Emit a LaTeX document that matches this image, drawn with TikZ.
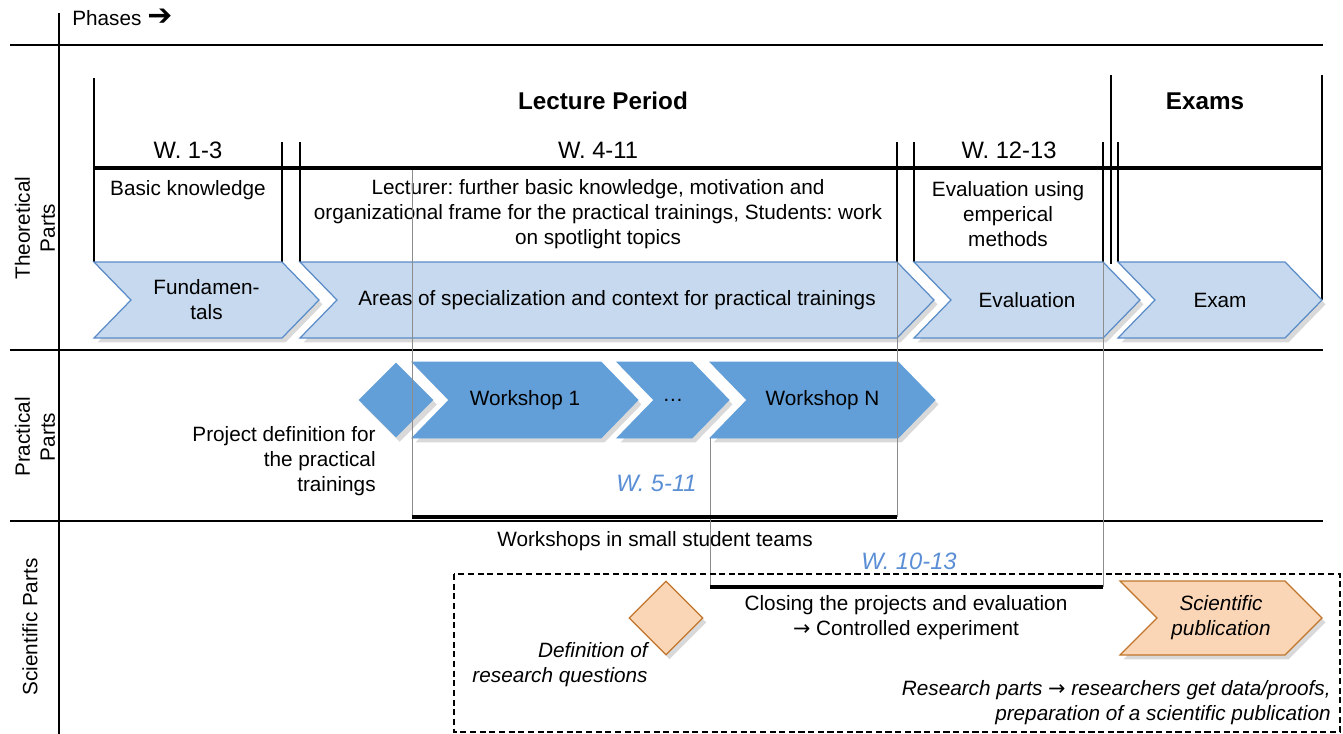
\documentclass[tikz,border=0pt]{standalone}
\usepackage{fontspec}
\setmainfont{Liberation Sans}
\newfontfamily\symfont{DejaVu Sans}
\usepackage{tikz}
\usetikzlibrary{shapes,arrows,calc,positioning,shadows}
\frenchspacing

\definecolor{chevlight}{HTML}{C6D9EE}
\definecolor{chevedge}{HTML}{5A8CC8}
\definecolor{chevdark}{HTML}{629FD9}
\definecolor{peach}{HTML}{FBD6B6}
\definecolor{peachedge}{HTML}{BF762C}
\definecolor{weekblue}{HTML}{5B8FD5}

\begin{document}
\begin{tikzpicture}[x=0.02cm, y=-0.02cm]
        \tikzstyle{gridline} = [draw, line width=0.75pt]
        \tikzstyle{phaseline} = [draw, line width=0.9pt]
        \tikzstyle{spanline} = [draw, line width=2.2pt]
        \tikzstyle{guideline} = [draw, line width=0.5pt, color=black!45]
        \tikzstyle{chevlt} = [fill=chevlight, draw=chevedge, line width=0.7pt,
        drop shadow={shadow xshift=2pt, shadow yshift=-2.5pt, opacity=0.3}]
        \tikzstyle{chevdk} = [fill=chevdark, draw=chevdark, line width=0.5pt,
        drop shadow={shadow xshift=2pt, shadow yshift=-2.5pt, opacity=0.3}]
        \tikzstyle{chevor} = [fill=peach, draw=peachedge, line width=0.7pt,
        drop shadow={shadow xshift=2pt, shadow yshift=-2.5pt, opacity=0.3}]
        \tikzset{txt/.style={font=\fontsize{11.8}{14.2}\selectfont, inner sep=0pt, align=center}}
        \tikzset{txtit/.style={font=\fontsize{11.8}{14.2}\selectfont\itshape, inner sep=0pt}}
        \tikzset{week/.style={font=\fontsize{13.5}{16}\selectfont, inner sep=0pt}}
        \tikzset{weekit/.style={font=\fontsize{13.5}{16}\selectfont\itshape, text=weekblue, inner sep=0pt}}
        \tikzset{head/.style={font=\fontsize{13.8}{16}\selectfont\bfseries, inner sep=0pt}}

        \useasboundingbox (0,0) rectangle (1343,734);

        % swimlanes
        \draw[gridline] (59,13) -- (59,734);
        \foreach \y in {45,350,521}
            \draw[gridline] (10,\y) -- (1323,\y);
        \node[txt, rotate=90] (theo) at (35,228) {Theoretical\\Parts};
        \node[txt, rotate=90] (prac) at (35,437) {Practical\\Parts};
        \node[txt, rotate=90] (sci) at (30,627) {Scientific Parts};
        \node[txt, anchor=west] (phases) at (72,17) {Phases {\symfont\bfseries\fontsize{17}{17}\selectfont ➔}};

        % phase brackets
        \draw[phaseline] (94,78) -- (94,262);
        \draw[phaseline] (1111,75) -- (1111,264);
        \draw[phaseline] (1322,75) -- (1322,300);
        \foreach \x in {282,300,897,914,1103,1118}
            \draw[phaseline] (\x,142) -- (\x,262);
        \draw[spanline] (94,168) -- (1322,168);
        \node[head] (lecture) at (603,101) {Lecture Period};
        \node[head] (exams) at (1205,101) {Exams};
        \node[week] (w13) at (188,150) {W. 1-3};
        \node[week] (w411) at (598,150) {W. 4-11};
        \node[week] (w1213) at (1009,150) {W. 12-13};
        \node[txt] (basic) at (188,190) {Basic knowledge};
        \node[txt] (lecturer) at (598,214) {Lecturer: further basic knowledge, motivation and\\
            organizational frame for the practical trainings, Students: work\\on spotlight topics};
        \node[txt] (evalusing) at (1008,214) {Evaluation using\\emperical\\methods};

        % theoretical phases
        \foreach \xl/\xr/\nm/\txt in {94/282/fund/{Fundamen-\\tals},
            300/897/areas/{Areas of specialization and context for practical trainings},
            914/1103/eval/Evaluation, 1118/1285/exam/Exam}{
            \draw[chevlt] (\xl,262) -- (\xr,262) -- (\xr+37,300) -- (\xr,338)
                -- (\xl,338) -- (\xl+37,300) -- cycle;
            \node[txt] (\nm) at ({(\xl+37+\xr)/2},300) {\txt};
        }

        % practical phases
        \node[diamond, aspect=1, minimum size=1.5cm, inner sep=0pt, fill=chevdark,
            drop shadow={shadow xshift=2pt, shadow yshift=-2.5pt, opacity=0.3}] (projdef) at (396,400) {};
        \foreach \xl/\xr/\nm/\txt in {412/601/ws1/Workshop 1, 617/692/wsdots/{\ldots}, 710/898/wsn/Workshop N}{
            \draw[chevdk] (\xl,362) -- (\xr,362) -- (\xr+37,400) -- (\xr,438)
                -- (\xl,438) -- (\xl+37,400) -- cycle;
            \node[txt] (\nm) at ({(\xl+37+\xr)/2},400) {\txt};
        }
        \node[txt, align=right, anchor=east] (projtxt) at (376,461)
            {Project definition for\\the practical\\trainings};

        % week spans
        \draw[guideline] (412,170) -- (412,517);
        \draw[guideline] (897,262) -- (897,517);
        \draw[guideline] (710,438) -- (710,587);
        \draw[guideline] (1103,262) -- (1103,587);
        \draw[spanline] (412,517) -- (897,517);
        \draw[spanline] (710,587) -- (1103,587);
        \node[weekit, anchor=east] (w511) at (697,483) {W. 5-11};
        \node[weekit, anchor=east] (w1013) at (957,561) {W. 10-13};
        \node[txt] (teams) at (655,541) {Workshops in small student teams};

        % scientific parts
        \draw[line width=0.6pt, dash pattern=on 3.5pt off 2pt] (454,574) rectangle (1340,732);
        \node[diamond, aspect=1, minimum size=1.48cm, inner sep=0pt, fill=peach, draw=peachedge,
            line width=0.7pt, drop shadow={shadow xshift=2pt, shadow yshift=-2.5pt, opacity=0.3}] (rq) at (666,618) {};
        \node[txtit, align=right, anchor=east] (rqtxt) at (648,665) {Definition of\\research questions};
        \node[txt] (closing) at (906,618) {Closing the projects and evaluation\\{\symfont →} Controlled experiment};
        \draw[chevor] (1120,581) -- (1285,581) -- (1322,618) -- (1285,655)
            -- (1120,655) -- (1157,618) -- cycle;
        \node[txtit, align=center] (pub) at (1221,618) {Scientific\\publication};
        \node[txtit, align=right, anchor=east] (research) at (1331,703)
            {Research parts {\symfont\upshape →} researchers get data/proofs,\\preparation of a scientific publication};
\end{tikzpicture}
\end{document}
